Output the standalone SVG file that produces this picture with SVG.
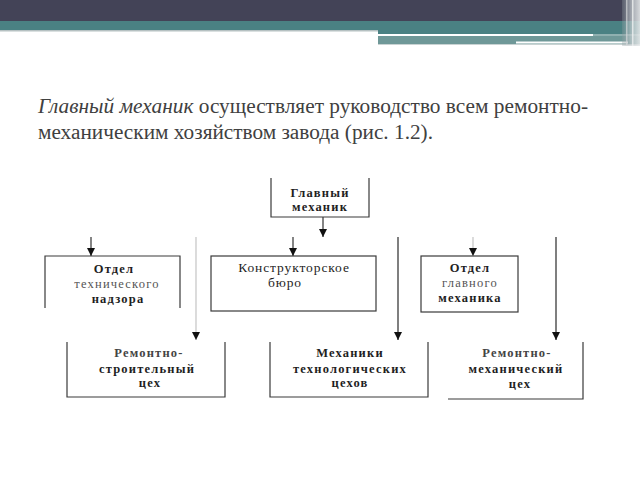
<svg xmlns="http://www.w3.org/2000/svg" width="640" height="480" viewBox="0 0 640 480">
<defs>
<style>
.title{font-family:"Liberation Serif","Times New Roman",serif;font-size:20px;fill:#404040}
.lbl{font-family:"Liberation Serif","Times New Roman",serif;font-size:12.5px;font-weight:bold;fill:#1e1e1e;text-anchor:middle;letter-spacing:1.2px}
.reg{font-weight:normal;font-size:13.5px;letter-spacing:0.9px}
.frame{fill:none;stroke:#3a3a3a;stroke-width:1.2}
.dark{stroke:#333;stroke-width:1.2;fill:none}
.mid{stroke:#555;stroke-width:1.5;fill:none}
.light{stroke:#c4c4c4;stroke-width:1.2;fill:none}
</style>
<marker id="ah" markerUnits="userSpaceOnUse" markerWidth="8" markerHeight="8" viewBox="0 0 8 8" refX="8" refY="4" orient="auto">
<path d="M0,0 L8,4 L0,8 Z" fill="#111"/>
</marker>
<linearGradient id="fade" x1="0" x2="1" y1="0" y2="0">
<stop offset="0" stop-color="#8d9a9e" stop-opacity="0.3"/>
<stop offset="0.5" stop-color="#c8cfd2" stop-opacity="0.7"/>
<stop offset="1" stop-color="#e6e9ea" stop-opacity="0.9"/>
</linearGradient>
</defs>
<rect x="0" y="0" width="640" height="480" fill="#ffffff"/>
<g id="header">
<rect x="0" y="0" width="640" height="21" fill="#434357"/>
<rect x="0" y="21" width="378" height="9" fill="#4a8183"/>
<rect x="0" y="30" width="378" height="1.5" fill="#b6c1c2"/>
<rect x="378" y="21" width="262" height="13" fill="#4a8183"/>
<rect x="378" y="34" width="215" height="2" fill="#ffffff"/>
<rect x="593" y="34" width="47" height="2" fill="#8fb0b0"/>
<rect x="378" y="36" width="262" height="8" fill="#6f9898"/>
<rect x="516" y="41.5" width="112" height="2" fill="#ffffff"/>
<rect x="378" y="44" width="262" height="1" fill="#c9d3d3"/>
<rect x="622" y="0" width="18" height="46" fill="url(#fade)"/>
<rect x="626" y="0" width="1.5" height="46" fill="#d5d9da" opacity="0.7"/>
<rect x="632" y="0" width="1.5" height="46" fill="#eef0f0" opacity="0.8"/>
</g>
<g id="intro">
<text class="title" x="38" y="113" textLength="550" lengthAdjust="spacingAndGlyphs"><tspan font-style="italic">Главный механик</tspan> осуществляет руководство всем ремонтно-</text>
<text class="title" x="38" y="139" textLength="395" lengthAdjust="spacingAndGlyphs">механическим хозяйством завода (рис. 1.2).</text>
</g>
<g id="connectors">
<line class="dark" x1="323" y1="217" x2="323" y2="237" marker-end="url(#ah)"/>
<line class="dark" x1="91" y1="237" x2="91" y2="256" marker-end="url(#ah)"/>
<line class="dark" x1="293" y1="237" x2="293" y2="256" marker-end="url(#ah)"/>
<line class="light" x1="473" y1="237" x2="473" y2="256" marker-end="url(#ah)"/>
<line class="light" x1="196" y1="237" x2="196" y2="340" marker-end="url(#ah)"/>
<line class="mid" x1="398" y1="237" x2="398" y2="340" marker-end="url(#ah)"/>
<line class="mid" x1="556" y1="237" x2="556" y2="340" marker-end="url(#ah)"/>
</g>
<g id="node-chief">
<path class="frame" d="M271,178 V217 H369 V178"/>
<text class="lbl" x="320" y="197">Главный</text>
<text class="lbl" x="320" y="211">механик</text>
</g>
<g id="node-tech-supervision">
<path class="frame" d="M45,308 V256 H180 V308"/>
<text class="lbl" x="114" y="273">Отдел</text>
<text class="lbl" x="117" y="288" style="fill:#555;font-weight:normal">технического</text>
<text class="lbl" x="118" y="303">надзора</text>
</g>
<g id="node-design-bureau">
<rect class="frame" x="211" y="256" width="165" height="55"/>
<text class="lbl reg" x="294" y="272">Конструкторское</text>
<text class="lbl reg" x="285" y="287">бюро</text>
</g>
<g id="node-chief-mech-dept">
<rect class="frame" x="421" y="256" width="97" height="56"/>
<text class="lbl" x="470" y="272">Отдел</text>
<text class="lbl" x="470" y="287" style="fill:#555;font-weight:normal">главного</text>
<text class="lbl" x="470" y="302">механика</text>
</g>
<g id="node-repair-construction">
<path class="frame" d="M67,342 V397 H225 V342"/>
<text class="lbl" x="149" y="357" style="fill:#444">Ремонтно-</text>
<text class="lbl" x="147" y="373">строительный</text>
<text class="lbl" x="150" y="387">цех</text>
</g>
<g id="node-shop-mechanics">
<path class="frame" d="M270,342 V397 H428 V342"/>
<text class="lbl" x="350" y="357">Механики</text>
<text class="lbl" x="350" y="373">технологических</text>
<text class="lbl" x="350" y="387">цехов</text>
</g>
<g id="node-repair-mechanical">
<path class="frame" d="M448,399 H583 V342"/>
<text class="lbl" x="517" y="357" style="fill:#444">Ремонтно-</text>
<text class="lbl" x="516" y="373">механический</text>
<text class="lbl" x="520" y="388">цех</text>
</g>
</svg>
